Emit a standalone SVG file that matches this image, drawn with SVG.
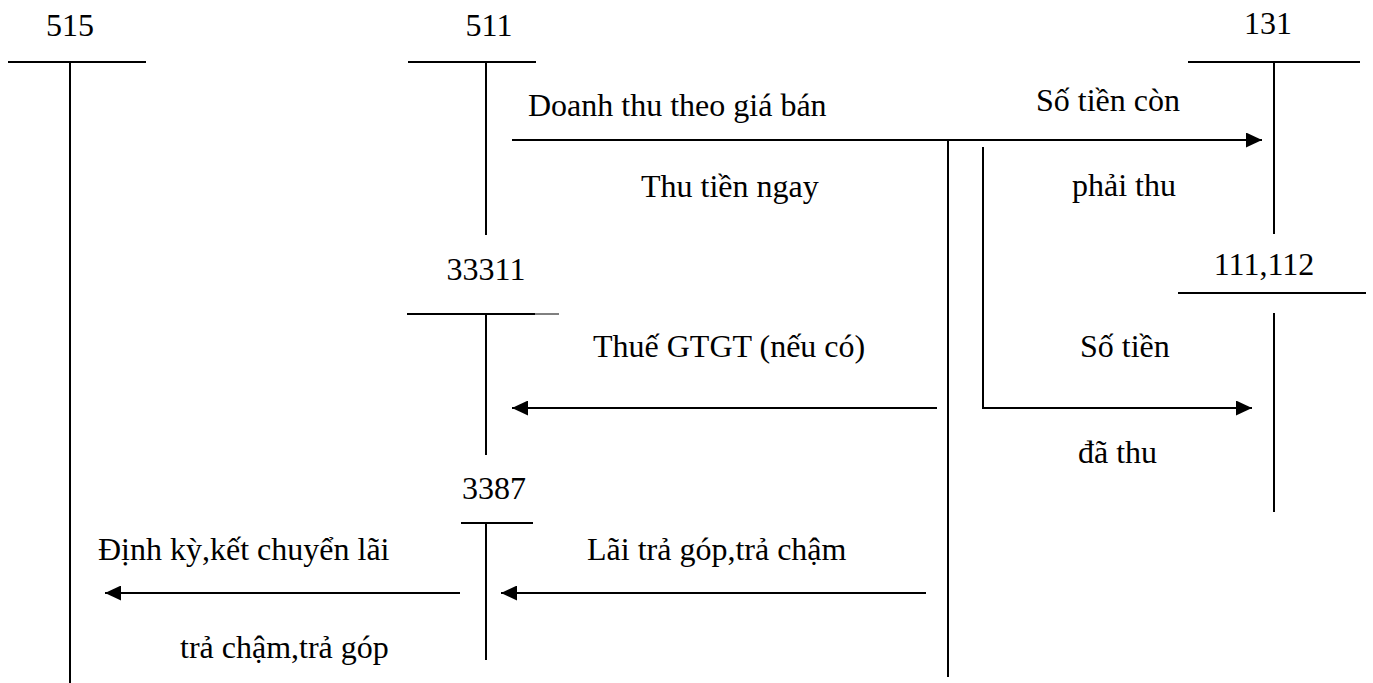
<svg xmlns="http://www.w3.org/2000/svg" width="1373" height="683" viewBox="0 0 1373 683">
<defs>
<style>
text{font-family:"Liberation Serif","Times New Roman",serif;font-size:32px;fill:#000}
.ln{stroke:#000;stroke-width:2;fill:none}
.thin{stroke:#000;stroke-width:1;fill:none}
</style>
<marker id="ah" markerWidth="16" markerHeight="15" refX="16" refY="7.5" orient="auto" markerUnits="userSpaceOnUse">
<path d="M0,0 L16,7.5 L0,15 Z" fill="#000"/>
</marker>
</defs>
<rect width="1373" height="683" fill="#fff"/>
<g id="acc515">
<text x="70" y="36" text-anchor="middle">515</text>
<line class="ln" x1="8" y1="62" x2="146" y2="62"/>
<line class="ln" x1="70" y1="62" x2="70" y2="683"/>
</g>
<g id="acc511">
<text x="489" y="36" text-anchor="middle">511</text>
<line class="ln" x1="408" y1="62" x2="536" y2="62"/>
<line class="ln" x1="486" y1="62" x2="486" y2="235"/>
</g>
<g id="acc131">
<text x="1268" y="34" text-anchor="middle">131</text>
<line class="ln" x1="1188" y1="62" x2="1360" y2="62"/>
<line class="ln" x1="1274" y1="62" x2="1274" y2="234"/>
</g>
<g id="acc111">
<text x="1264" y="275" text-anchor="middle">111,112</text>
<line class="ln" x1="1178" y1="293" x2="1366" y2="293"/>
<line class="ln" x1="1274" y1="313" x2="1274" y2="512"/>
</g>
<g id="acc33311">
<text x="486" y="280" text-anchor="middle">33311</text>
<line class="ln" x1="407" y1="314" x2="535" y2="314"/>
<line class="thin" x1="535" y1="314" x2="559" y2="314"/>
<line class="ln" x1="486" y1="314" x2="486" y2="455"/>
</g>
<g id="acc3387">
<text x="494" y="499" text-anchor="middle">3387</text>
<line class="ln" x1="461" y1="523" x2="533" y2="523"/>
<line class="ln" x1="486" y1="523" x2="486" y2="660"/>
</g>
<g id="connectors">
<line class="ln" x1="512" y1="140" x2="1262" y2="140" marker-end="url(#ah)"/>
<line class="ln" x1="948" y1="140" x2="948" y2="677"/>
<polyline class="ln" points="983,147 983,408 1252,408" marker-end="url(#ah)"/>
<line class="ln" x1="937" y1="408" x2="512" y2="408" marker-end="url(#ah)"/>
<line class="ln" x1="926" y1="593" x2="501" y2="593" marker-end="url(#ah)"/>
<line class="ln" x1="460" y1="593" x2="105" y2="593" marker-end="url(#ah)"/>
</g>
<g id="labels">
<text x="528" y="116">Doanh thu theo giá bán</text>
<text x="641" y="197">Thu tiền ngay</text>
<text x="1036" y="111">Số tiền còn</text>
<text x="1072" y="196">phải thu</text>
<text x="593" y="357">Thuế GTGT (nếu có)</text>
<text x="1080" y="357">Số tiền</text>
<text x="1078" y="463">đã thu</text>
<text x="98" y="560">Định kỳ,kết chuyển lãi</text>
<text x="587" y="560">Lãi trả góp,trả chậm</text>
<text x="180" y="658">trả chậm,trả góp</text>
</g>
</svg>
